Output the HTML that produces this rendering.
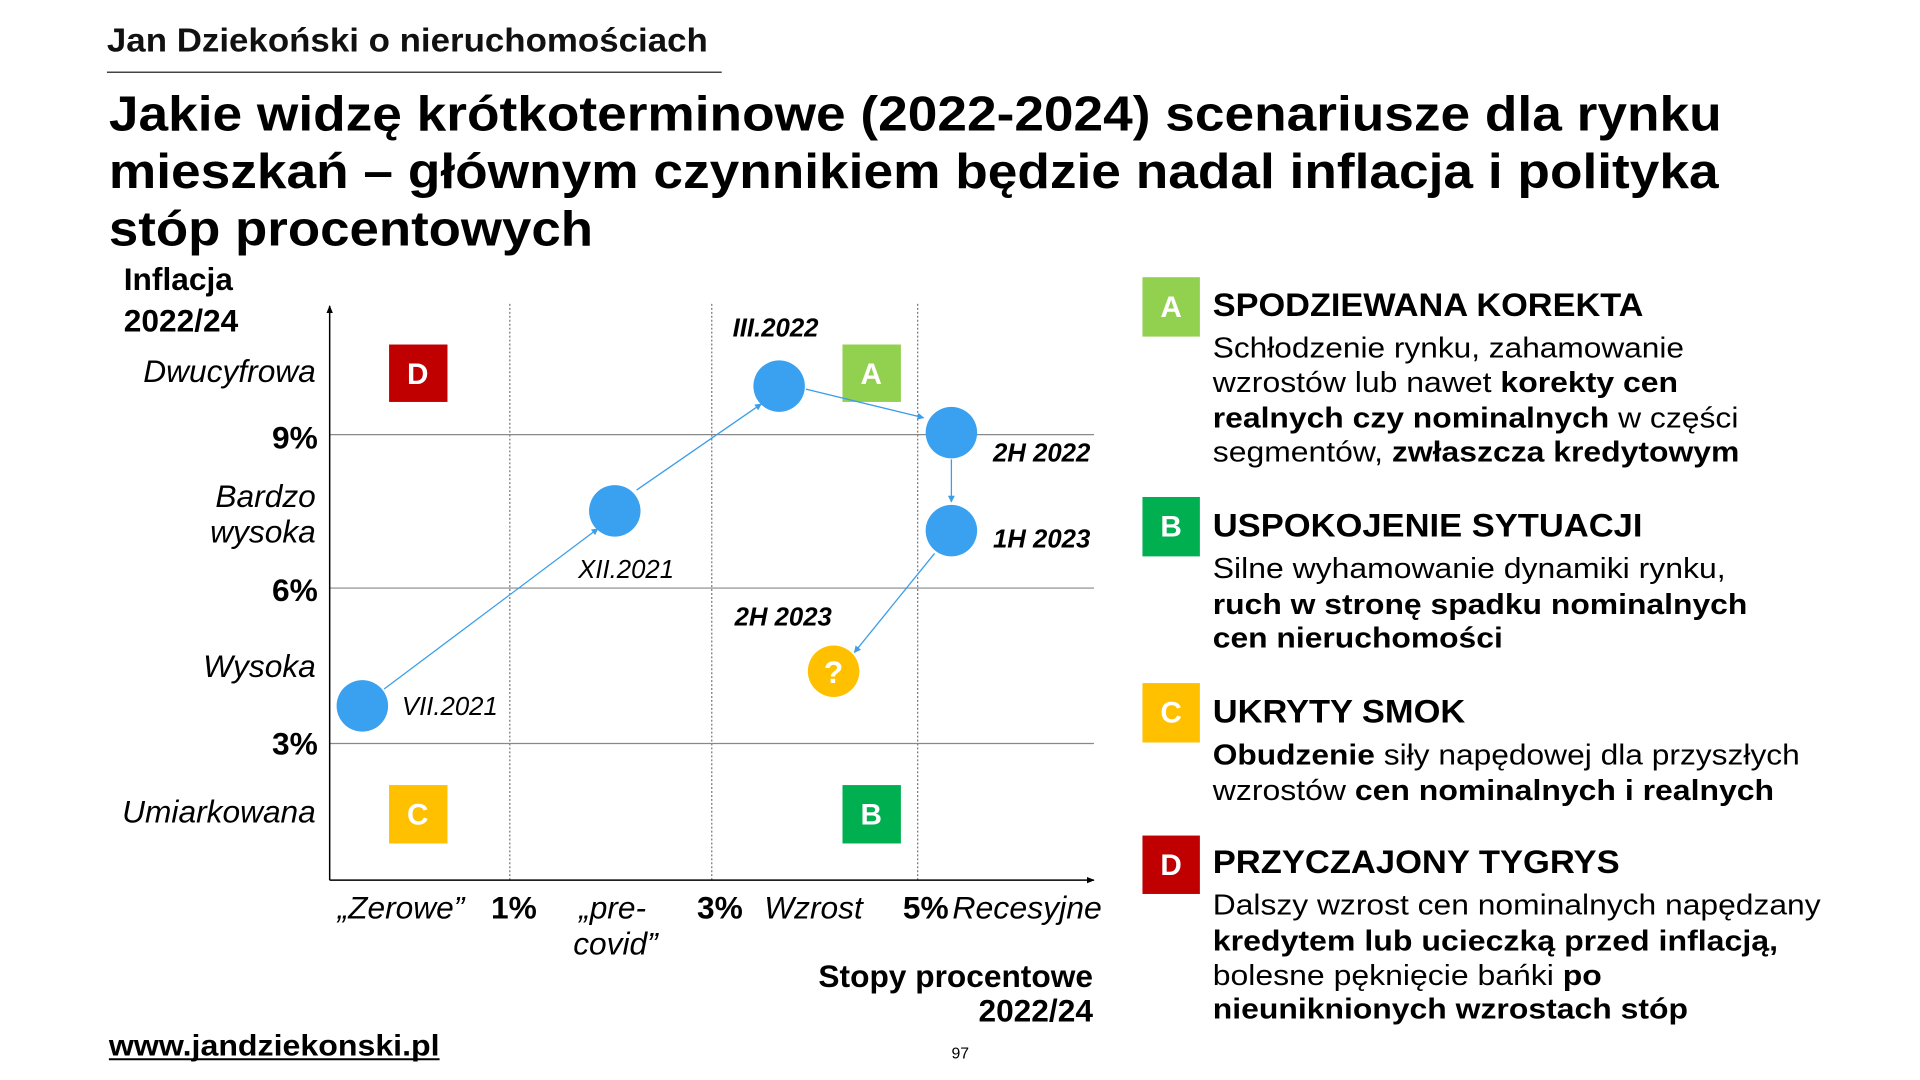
<!DOCTYPE html>
<html><head><meta charset="utf-8"><style>
html,body{margin:0;padding:0;background:#fff;}
svg{display:block;font-family:"Liberation Sans",Arial,sans-serif;}
</style></head><body>
<svg width="1920" height="1080" viewBox="0 0 1920 1080" xmlns="http://www.w3.org/2000/svg">
<defs>
<marker id="ah" viewBox="0 0 10 10" refX="9" refY="5" markerWidth="7" markerHeight="7" orient="auto-start-reverse" markerUnits="userSpaceOnUse">
<path d="M0,0 L10,5 L0,10 z" fill="#3a9ee8"/></marker>
<marker id="ak" viewBox="0 0 10 10" refX="9" refY="5" markerWidth="8" markerHeight="8" orient="auto" markerUnits="userSpaceOnUse">
<path d="M0,1 L10,5 L0,9 z" fill="#000"/></marker>
</defs>
<rect width="1920" height="1080" fill="#fff"/>
<g transform="scale(0.99)">
<text x="108" y="52" font-size="34" font-weight="bold" textLength="607" lengthAdjust="spacingAndGlyphs" fill="#111">Jan Dziekoński o nieruchomościach</text>
<line x1="108" y1="73" x2="729" y2="73" stroke="#444" stroke-width="1.5"/>
<g font-size="50" font-weight="bold" fill="#000">
<text x="110" y="132" textLength="1629" lengthAdjust="spacingAndGlyphs">Jakie widzę krótkoterminowe (2022-2024) scenariusze dla rynku</text>
<text x="110" y="190" textLength="1626" lengthAdjust="spacingAndGlyphs">mieszkań – głównym czynnikiem będzie nadal inflacja i polityka</text>
<text x="110" y="248" textLength="489" lengthAdjust="spacingAndGlyphs">stóp procentowych</text>
</g>
<g stroke="#555" stroke-width="1" stroke-dasharray="2,2">
<line x1="515" y1="307" x2="515" y2="889"/>
<line x1="719" y1="307" x2="719" y2="889"/>
<line x1="927" y1="307" x2="927" y2="889"/>
</g>
<g stroke="#888" stroke-width="1.2">
<line x1="333" y1="439" x2="1105" y2="439"/>
<line x1="333" y1="594" x2="1105" y2="594"/>
<line x1="333" y1="751" x2="1105" y2="751"/>
</g>
<line x1="333" y1="889" x2="333" y2="309" stroke="#000" stroke-width="1.5" marker-end="url(#ak)"/>
<line x1="333" y1="889" x2="1105" y2="889" stroke="#000" stroke-width="1.5" marker-end="url(#ak)"/>
<g font-size="30" font-weight="bold" fill="#fff" text-anchor="middle">
<rect x="393" y="348" width="59" height="58" fill="#c00000"/><text x="422" y="388">D</text>
<rect x="851" y="348" width="59" height="58" fill="#92d050"/><text x="880" y="388">A</text>
<rect x="393" y="793" width="59" height="59" fill="#ffc000"/><text x="422" y="833">C</text>
<rect x="851" y="793" width="59" height="59" fill="#00b050"/><text x="880" y="833">B</text>
</g>
<g stroke="#3a9ee8" stroke-width="1.3" fill="none" marker-end="url(#ah)">
<line x1="388" y1="696" x2="604" y2="534"/>
<line x1="643" y1="495" x2="769" y2="408"/>
<line x1="814" y1="393" x2="933" y2="422"/>
<line x1="961" y1="464" x2="961" y2="507"/>
<line x1="944" y1="559" x2="863" y2="659"/>
</g>
<g fill="#3aa0f0">
<circle cx="366" cy="713" r="26"/>
<circle cx="621" cy="516" r="26"/>
<circle cx="787" cy="390" r="26"/>
<circle cx="961" cy="437" r="26"/>
<circle cx="961" cy="536" r="26"/>
</g>
<circle cx="842" cy="678" r="26" fill="#ffc000"/>
<text x="842" y="690" font-size="32" font-weight="bold" fill="#fff" text-anchor="middle">?</text>
<g font-size="26" font-style="italic" fill="#000">
<text x="740" y="340" font-weight="bold">III.2022</text>
<text x="1003" y="466" font-weight="bold">2H 2022</text>
<text x="1003" y="553" font-weight="bold">1H 2023</text>
<text x="584" y="584">XII.2021</text>
<text x="742" y="632" font-weight="bold">2H 2023</text>
<text x="406" y="722">VII.2021</text>
</g>
<g font-size="32" font-weight="bold" fill="#000">
<text x="125" y="293">Inflacja</text>
<text x="125" y="335">2022/24</text>
</g>
<g font-size="32" fill="#000" text-anchor="end">
<text x="319" y="386" font-style="italic">Dwucyfrowa</text>
<text x="321" y="453" font-weight="bold">9%</text>
<text x="319" y="512" font-style="italic">Bardzo</text>
<text x="319" y="548" font-style="italic">wysoka</text>
<text x="321" y="607" font-weight="bold">6%</text>
<text x="319" y="684" font-style="italic">Wysoka</text>
<text x="321" y="762" font-weight="bold">3%</text>
<text x="319" y="831" font-style="italic">Umiarkowana</text>
</g>
<g font-size="32" fill="#000">
<text x="341" y="928" font-style="italic">„Zerowe”</text>
<text x="496" y="928" font-weight="bold">1%</text>
<text x="585" y="928" font-style="italic">„pre-</text>
<text x="579" y="964" font-style="italic">covid”</text>
<text x="704" y="928" font-weight="bold">3%</text>
<text x="772" y="928" font-style="italic">Wzrost</text>
<text x="912" y="928" font-weight="bold">5%</text>
<text x="962" y="928" font-style="italic" textLength="151" lengthAdjust="spacingAndGlyphs">Recesyjne</text>
</g>
<g font-size="32" font-weight="bold" fill="#000" text-anchor="end">
<text x="1104" y="997">Stopy procentowe</text>
<text x="1104" y="1032">2022/24</text>
</g>
<text x="110" y="1066" font-size="30" font-weight="bold" fill="#000" textLength="334" lengthAdjust="spacingAndGlyphs">www.jandziekonski.pl</text>
<line x1="110" y1="1070" x2="444" y2="1070" stroke="#000" stroke-width="2"/>
<text x="970" y="1069" font-size="16" fill="#000" text-anchor="middle">97</text>
<g font-size="30" font-weight="bold" fill="#fff" text-anchor="middle">
<rect x="1154" y="280" width="58" height="60" fill="#92d050"/><text x="1183" y="320">A</text>
<rect x="1154" y="502" width="58" height="60" fill="#00b050"/><text x="1183" y="542">B</text>
<rect x="1154" y="690" width="58" height="60" fill="#ffc000"/><text x="1183" y="730">C</text>
<rect x="1154" y="844" width="58" height="59" fill="#c00000"/><text x="1183" y="884">D</text>
</g>
<g font-size="33" font-weight="bold" fill="#000">
<text x="1225" y="319" textLength="435" lengthAdjust="spacingAndGlyphs">SPODZIEWANA KOREKTA</text>
<text x="1225" y="542" textLength="434" lengthAdjust="spacingAndGlyphs">USPOKOJENIE SYTUACJI</text>
<text x="1225" y="730" textLength="255" lengthAdjust="spacingAndGlyphs">UKRYTY SMOK</text>
<text x="1225" y="882" textLength="411" lengthAdjust="spacingAndGlyphs">PRZYCZAJONY TYGRYS</text>
</g>
<g font-size="29" fill="#000">
<text x="1225" y="361" textLength="476" lengthAdjust="spacingAndGlyphs">Schłodzenie rynku, zahamowanie</text>
<text x="1225" y="396" textLength="470" lengthAdjust="spacingAndGlyphs">wzrostów lub nawet <tspan font-weight="bold">korekty cen</tspan></text>
<text x="1225" y="432" textLength="531" lengthAdjust="spacingAndGlyphs"><tspan font-weight="bold">realnych czy nominalnych</tspan> w części</text>
<text x="1225" y="466" textLength="532" lengthAdjust="spacingAndGlyphs">segmentów, <tspan font-weight="bold">zwłaszcza kredytowym</tspan></text>
<text x="1225" y="584" textLength="518" lengthAdjust="spacingAndGlyphs">Silne wyhamowanie dynamiki rynku,</text>
<text x="1225" y="620" textLength="540" lengthAdjust="spacingAndGlyphs" font-weight="bold">ruch w stronę spadku nominalnych</text>
<text x="1225" y="654" textLength="293" lengthAdjust="spacingAndGlyphs" font-weight="bold">cen nieruchomości</text>
<text x="1225" y="772" textLength="593" lengthAdjust="spacingAndGlyphs"><tspan font-weight="bold">Obudzenie</tspan> siły napędowej dla przyszłych</text>
<text x="1225" y="808" textLength="567" lengthAdjust="spacingAndGlyphs">wzrostów <tspan font-weight="bold">cen nominalnych i realnych</tspan></text>
<text x="1225" y="924" textLength="614" lengthAdjust="spacingAndGlyphs">Dalszy wzrost cen nominalnych napędzany</text>
<text x="1225" y="960" textLength="571" lengthAdjust="spacingAndGlyphs" font-weight="bold">kredytem lub ucieczką przed inflacją,</text>
<text x="1225" y="995" textLength="393" lengthAdjust="spacingAndGlyphs">bolesne pęknięcie bańki <tspan font-weight="bold">po</tspan></text>
<text x="1225" y="1029" textLength="480" lengthAdjust="spacingAndGlyphs" font-weight="bold">nieuniknionych wzrostach stóp</text>
</g>
</g>
</svg>
</body></html>
